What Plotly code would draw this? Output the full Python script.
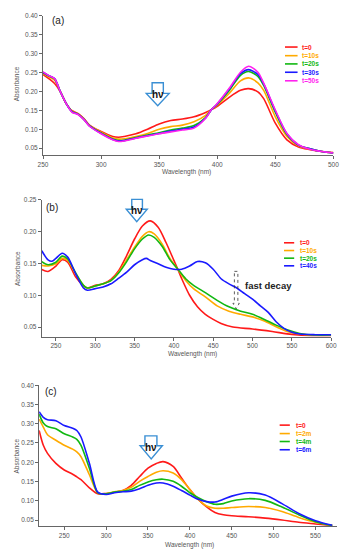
import plotly.graph_objects as go

W, H = 351, 550
OFF = 8  # default page body margin
FW, FH = W - OFF, H - OFF

# ---------------- DATA ----------------
# Panel (a)
a_wl = [250, 255, 260, 265, 270, 275, 280, 285, 290, 300, 310, 315, 320, 330, 340, 350, 360, 370, 380, 390, 395,
        400, 410, 420, 427, 435, 440, 450, 460, 470, 480, 490, 500]
a_names = ["t=0", "t=10s", "t=20s", "t=30s", "t=50s"]
a_t0 = [0.245, 0.234, 0.221, 0.199, 0.168, 0.149, 0.142, 0.129, 0.111, 0.094, 0.081, 0.079, 0.081, 0.088, 0.100,
        0.114, 0.123, 0.127, 0.133, 0.1445, 0.152, 0.161, 0.184, 0.203, 0.2075, 0.199, 0.181, 0.116, 0.072, 0.053,
        0.046, 0.041, 0.038]
a_t10 = [0.248, 0.239, 0.230, 0.199, 0.168, 0.148, 0.141, 0.128, 0.110, 0.092, 0.077, 0.074, 0.075, 0.081, 0.089,
         0.100, 0.107, 0.111, 0.120, 0.137, 0.152, 0.164, 0.194, 0.228, 0.236, 0.223, 0.203, 0.133, 0.081, 0.056,
         0.047, 0.041, 0.037]
a_t20 = [0.250, 0.241, 0.233, 0.199, 0.168, 0.147, 0.140, 0.127, 0.109, 0.090, 0.074, 0.070, 0.071, 0.078, 0.085,
         0.091, 0.098, 0.103, 0.110, 0.131, 0.152, 0.166, 0.201, 0.243, 0.253, 0.240, 0.216, 0.145, 0.086, 0.058,
         0.048, 0.041, 0.037]
a_t30 = [0.251, 0.242, 0.234, 0.199, 0.168, 0.146, 0.140, 0.127, 0.109, 0.089, 0.073, 0.069, 0.070, 0.077, 0.083,
         0.089, 0.095, 0.100, 0.106, 0.130, 0.152, 0.167, 0.205, 0.247, 0.258, 0.245, 0.220, 0.149, 0.088, 0.058,
         0.048, 0.041, 0.037]
a_t50 = [0.252, 0.242, 0.234, 0.199, 0.168, 0.145, 0.139, 0.126, 0.108, 0.088, 0.072, 0.0675, 0.069, 0.076, 0.082,
         0.088, 0.093, 0.098, 0.103, 0.129, 0.152, 0.168, 0.207, 0.251, 0.267, 0.251, 0.222, 0.151, 0.089, 0.059,
         0.047, 0.041, 0.037]

# Panel (b)
b_names = ["t=0", "t=10s", "t=20s", "t=40s"]
b_wl_red = [232, 240, 250, 258, 265, 275, 285, 290, 300, 310, 320, 330, 340, 350, 360, 370, 380, 390, 400, 405, 410,
            420, 430, 440, 450, 460, 475, 500, 525, 550, 575, 600]
b_t0 = [0.1406, 0.1375, 0.146, 0.156, 0.152, 0.129, 0.115, 0.1115, 0.1156, 0.118, 0.125, 0.139, 0.1625, 0.1885,
        0.209, 0.217, 0.207, 0.183, 0.155, 0.141, 0.126, 0.100, 0.082, 0.070, 0.062, 0.0557, 0.050, 0.047, 0.043,
        0.0385, 0.0365, 0.0365]
b_wl_mid = [232, 240, 250, 258, 265, 275, 285, 290, 300, 310, 320, 330, 340, 350, 360, 368, 375, 385, 395, 405, 415,
            425, 440, 455, 470, 485, 500, 515, 530, 545, 560, 580, 600]
b_t10 = [0.147, 0.146, 0.1495, 0.158, 0.1547, 0.134, 0.1156, 0.1115, 0.1146, 0.118, 0.1234, 0.1365, 0.156, 0.1755,
         0.1927, 0.200, 0.1964, 0.1807, 0.158, 0.141, 0.1234, 0.1104, 0.0974, 0.0833, 0.075, 0.070, 0.066, 0.0594,
         0.0505, 0.0427, 0.039, 0.037, 0.037]
b_t20 = [0.153, 0.148, 0.152, 0.1615, 0.157, 0.1354, 0.1156, 0.1115, 0.1146, 0.118, 0.123, 0.1354, 0.153, 0.173,
         0.1885, 0.1948, 0.191, 0.177, 0.156, 0.141, 0.126, 0.1156, 0.1042, 0.092, 0.0818, 0.075, 0.070, 0.062,
         0.053, 0.0453, 0.040, 0.0375, 0.0375]
b_wl_blue = [232, 240, 245, 250, 258, 265, 275, 285, 290, 300, 310, 320, 330, 340, 350, 360, 365, 370, 380, 390, 400,
             410, 420, 430, 440, 450, 460, 470, 480, 490, 500, 510, 520, 530, 540, 550, 560, 580, 600]
b_t40 = [0.170, 0.1557, 0.1536, 0.158, 0.166, 0.160, 0.134, 0.1115, 0.108, 0.1104, 0.113, 0.118, 0.127, 0.1365,
         0.148, 0.156, 0.158, 0.1547, 0.1495, 0.144, 0.141, 0.141, 0.146, 0.153, 0.151, 0.141, 0.126, 0.118, 0.1115,
         0.1026, 0.0938, 0.0833, 0.073, 0.0583, 0.048, 0.0417, 0.039, 0.038, 0.038]

# Panel (c)
c_names = ["t=0", "t=2m", "t=4m", "t=6m"]
c_wl = [220, 225, 230, 240, 250, 260, 265, 270, 280, 290, 300, 310, 320, 330, 340, 350, 360, 368, 380, 390, 400,
        410, 420, 430, 440, 450, 470, 490, 510, 530, 550, 570]
c_t0 = [0.2825, 0.244, 0.223, 0.197, 0.180, 0.169, 0.162, 0.1547, 0.1335, 0.118, 0.119, 0.122, 0.1266, 0.140,
        0.163, 0.1845, 0.197, 0.2016, 0.189, 0.159, 0.129, 0.1037, 0.084, 0.0696, 0.0636, 0.061, 0.0585, 0.055,
        0.050, 0.044, 0.0398, 0.0356]
c_t2 = [0.312, 0.291, 0.2714, 0.257, 0.244, 0.234, 0.227, 0.2144, 0.1675, 0.1207, 0.118, 0.1233, 0.1266, 0.135,
        0.1505, 0.163, 0.174, 0.1778, 0.172, 0.155, 0.129, 0.1037, 0.0866, 0.0806, 0.0806, 0.0823, 0.085, 0.0823,
        0.072, 0.0568, 0.044, 0.0356]
c_t4 = [0.325, 0.302, 0.2927, 0.287, 0.274, 0.2655, 0.2595, 0.244, 0.1846, 0.1207, 0.118, 0.1224, 0.1249, 0.129,
        0.140, 0.149, 0.1547, 0.156, 0.1505, 0.1377, 0.1207, 0.108, 0.0977, 0.0909, 0.0926, 0.0994, 0.1054, 0.101,
        0.084, 0.0636, 0.0457, 0.0356]
c_t6 = [0.331, 0.3165, 0.3106, 0.308, 0.2953, 0.2884, 0.2825, 0.2655, 0.1974, 0.1224, 0.1164, 0.1207, 0.1233,
        0.125, 0.131, 0.140, 0.146, 0.146, 0.1377, 0.1266, 0.1147, 0.1037, 0.0977, 0.0968, 0.1037, 0.112, 0.1207,
        0.1147, 0.0926, 0.067, 0.0483, 0.0364]

RED, ORANGE, GREEN, BLUE, MAGENTA = "#ff1a1a", "#ffaa00", "#12b812", "#1a1aff", "#ff22ee"


def px(x):
    return (x - OFF) / FW


def py(y):
    return 1 - (y - OFF) / FH


fig = go.Figure()

panels = [
    dict(xa="x", ya="y", series=[(a_wl, a_t0, RED), (a_wl, a_t10, ORANGE), (a_wl, a_t20, GREEN),
                                 (a_wl, a_t30, BLUE), (a_wl, a_t50, MAGENTA)], names=a_names),
    dict(xa="x2", ya="y2", series=[(b_wl_red, b_t0, RED), (b_wl_mid, b_t10, ORANGE), (b_wl_mid, b_t20, GREEN),
                                   (b_wl_blue, b_t40, BLUE)], names=b_names),
    dict(xa="x3", ya="y3", series=[(c_wl, c_t0, RED), (c_wl, c_t2, ORANGE), (c_wl, c_t4, GREEN),
                                   (c_wl, c_t6, BLUE)], names=c_names),
]

for p in panels:
    for (xs, ys, col), nm in zip(p["series"], p["names"]):
        fig.add_trace(go.Scatter(x=xs, y=ys, mode="lines", name=nm, xaxis=p["xa"], yaxis=p["ya"],
                                 line=dict(color=col, width=1.6, shape="spline", smoothing=0.8),
                                 showlegend=False, hoverinfo="skip"))

axfont = dict(family="Liberation Sans, Arial", size=6.5, color="#555")
common = dict(showgrid=False, zeroline=False, showline=True, linecolor="#666", linewidth=1,
              ticks="outside", ticklen=3, tickcolor="#666", tickfont=axfont)

fig.update_layout(
    width=FW, height=FH, margin=dict(l=0, r=0, t=0, b=0),
    paper_bgcolor="white", plot_bgcolor="white",
    xaxis=dict(domain=[px(39), px(339)], range=[250, 500], tickvals=[250, 300, 350, 400, 450, 500],
               anchor="y", **common),
    yaxis=dict(domain=[py(152), py(12)], range=[0.032, 0.40],
               tickvals=[0.05, 0.10, 0.15, 0.20, 0.25, 0.30, 0.35, 0.40], tickformat=".2f", anchor="x", **common),
    xaxis2=dict(domain=[px(37.7), px(336.7)], range=[232, 600],
                tickvals=[250, 300, 350, 400, 450, 500, 550, 600], anchor="y2", **common),
    yaxis2=dict(domain=[py(335), py(197.3)], range=[0.035, 0.25],
                tickvals=[0.05, 0.10, 0.15, 0.20, 0.25], tickformat=".2f", anchor="x2", **common),
    xaxis3=dict(domain=[px(35), px(343)], range=[220, 576],
                tickvals=[250, 300, 350, 400, 450, 500, 550], anchor="y3", **common),
    yaxis3=dict(domain=[py(526), py(384)], range=[0.034, 0.40],
                tickvals=[0.05, 0.10, 0.15, 0.20, 0.25, 0.30, 0.35, 0.40], tickformat=".2f", anchor="x3", **common),
)

annotations = []
shapes = []


def text(x, y, s, size=6.5, color="#555", xanchor="center", textangle=0, bold=False):
    annotations.append(dict(x=px(x), y=py(y), xref="paper", yref="paper", text=("<b>%s</b>" % s) if bold else s,
                            showarrow=False, xanchor=xanchor, yanchor="middle", textangle=textangle,
                            font=dict(family="Liberation Sans, Arial", size=size, color=color)))


# panel labels
text(55, 17, "(a)", size=10, color="#222")
text(48, 205, "(b)", size=10, color="#222")
text(47, 390, "(c)", size=10, color="#222")

# axis titles
for yy in (80, 266, 455):
    text(12, yy, "Absorbance", textangle=-90)
text(187, 169, "Wavelength (nm)")
text(193, 353, "Wavelength (nm)")
text(190, 544.5, "Wavelength (nm)")

# legends
legends = [
    (a_names, [RED, ORANGE, GREEN, BLUE, MAGENTA], 289, 302, 305, [43.3, 52, 60.3, 68.7, 77.3]),
    (b_names, [RED, ORANGE, GREEN, BLUE], 288, 298.5, 302.5, [240.5, 248.3, 256, 263.7]),
    (c_names, [RED, ORANGE, GREEN, BLUE], 283.5, 294, 298.5, [424.2, 432.7, 440.7, 449]),
]
for names, cols, x0, x1, xt, ys in legends:
    for nm, col, yy in zip(names, cols, ys):
        shapes.append(dict(type="line", xref="paper", yref="paper", x0=px(x0), x1=px(x1), y0=py(yy), y1=py(yy),
                           line=dict(color=col, width=1.6)))
        text(xt, yy, nm, size=6.5, color=col, xanchor="left", bold=True)


# hv arrows (outlined block arrows)
def block_arrow(bx0, bx1, by0, by1, hx0, hx1, tipy, label_y):
    cx = (hx0 + hx1) / 2
    pts = [(bx0, by0), (bx1, by0), (bx1, by1), (hx1, by1), (cx, tipy), (hx0, by1), (bx0, by1)]
    path = "M " + " L ".join("%.4f,%.4f" % (px(x), py(y)) for x, y in pts) + " Z"
    shapes.append(dict(type="path", xref="paper", yref="paper", path=path,
                       line=dict(color="#3a8fd4", width=1.4), fillcolor="white"))
    text(cx, label_y, "hν", size=10, color="#111", bold=True)


block_arrow(151.7, 163.3, 79.3, 90, 145.7, 169.3, 102.3, 91)
block_arrow(130.7, 141.7, 196.7, 206.7, 125, 146.7, 219.3, 208)
block_arrow(144.3, 156.7, 435, 445, 139.3, 162.3, 458.3, 446.5)

# fast decay dashed arrow
pts = [(236.7, 269.3), (240.3, 269.3), (240.3, 301.5), (241.8, 301.5), (238.5, 307), (235.2, 301.5),
       (236.7, 301.5)]
path = "M " + " L ".join("%.4f,%.4f" % (px(x), py(y)) for x, y in pts) + " Z"
shapes.append(dict(type="path", xref="paper", yref="paper", path=path,
                   line=dict(color="#333", width=0.8, dash="dot"), fillcolor="rgba(0,0,0,0)"))
text(246, 283.5, "fast decay", size=9.5, color="#222", xanchor="left", bold=True)

fig.update_layout(annotations=annotations, shapes=shapes)
fig.write_html("out.html")
